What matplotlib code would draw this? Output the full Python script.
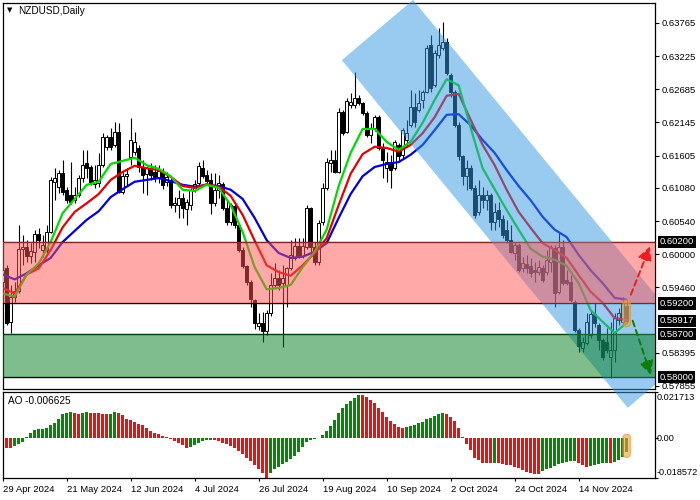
import matplotlib
matplotlib.use("Agg")
import matplotlib.pyplot as plt
import numpy as np
from matplotlib.patches import Rectangle, Polygon, FancyBboxPatch, FancyArrowPatch
from matplotlib.transforms import Bbox, TransformedBbox, blended_transform_factory

plt.rcParams['font.family'] = ['Liberation Sans', 'DejaVu Sans']

# ---------------- data ----------------
title_text = "NZDUSD,Daily"
ao_text = "AO -0.006625"

opens = [0.5955, 0.5978, 0.5890, 0.5930, 0.5940, 0.6009, 0.6012, 0.5997, 0.6004, 0.6033,
         0.6007, 0.6007, 0.6036, 0.6118, 0.6110, 0.6132, 0.6105, 0.6096, 0.6088, 0.6096,
         0.6124, 0.6148, 0.6142, 0.6114, 0.6116, 0.6145, 0.6175, 0.6191, 0.6178, 0.6199,
         0.6101, 0.6127, 0.6158, 0.6166, 0.6173, 0.6142, 0.6130, 0.6140, 0.6134, 0.6126,
         0.6134, 0.6118, 0.6121, 0.6080, 0.6080, 0.6091, 0.6074, 0.6080, 0.6105, 0.6116,
         0.6140, 0.6129, 0.6121, 0.6083, 0.6105, 0.6114, 0.6075, 0.6052, 0.6078, 0.6048,
         0.6007, 0.5981, 0.5955, 0.5926, 0.5883, 0.5888, 0.5875, 0.5904, 0.5950, 0.5961,
         0.5953, 0.5950, 0.5977, 0.5994, 0.6013, 0.5997, 0.6012, 0.6075, 0.6012, 0.5987,
         0.6052, 0.6108, 0.6148, 0.6153, 0.6134, 0.6232, 0.6199, 0.6243, 0.6243, 0.6254,
         0.6246, 0.6230, 0.6194, 0.6205, 0.6223, 0.6173, 0.6141, 0.6150, 0.6140, 0.6178,
         0.6161, 0.6186, 0.6210, 0.6240, 0.6235, 0.6251, 0.6264, 0.6341, 0.6275, 0.6324,
         0.6336, 0.6346, 0.6292, 0.6264, 0.6210, 0.6160, 0.6127, 0.6140, 0.6108, 0.6069,
         0.6096, 0.6088, 0.6096, 0.6052, 0.6072, 0.6057, 0.6040, 0.6023, 0.6002, 0.6015,
         0.5977, 0.5984, 0.5981, 0.5974, 0.5971, 0.5977, 0.5971, 0.5987, 0.6010, 0.5938,
         0.6012, 0.5958, 0.5955, 0.5922, 0.5877, 0.5848, 0.5855, 0.5868, 0.5903, 0.5885,
         0.5860, 0.5857, 0.5832, 0.5844, 0.5893, 0.5890, 0.5916]

highs = [0.5981, 0.5982, 0.5950, 0.5955, 0.6048, 0.6031, 0.6023, 0.6018, 0.6040, 0.6043,
         0.6031, 0.6048, 0.6126, 0.6140, 0.6137, 0.6153, 0.6110, 0.6150, 0.6110, 0.6129,
         0.6170, 0.6170, 0.6145, 0.6145, 0.6165, 0.6197, 0.6194, 0.6205, 0.6215, 0.6214,
         0.6134, 0.6140, 0.6222, 0.6199, 0.6178, 0.6153, 0.6143, 0.6148, 0.6145, 0.6145,
         0.6140, 0.6134, 0.6124, 0.6093, 0.6105, 0.6100, 0.6090, 0.6108, 0.6121, 0.6150,
         0.6153, 0.6137, 0.6132, 0.6132, 0.6129, 0.6118, 0.6088, 0.6083, 0.6083, 0.6051,
         0.6012, 0.5982, 0.5958, 0.5927, 0.5904, 0.5906, 0.5909, 0.5970, 0.5985, 0.5974,
         0.5982, 0.5979, 0.6023, 0.6026, 0.6026, 0.6026, 0.6080, 0.6077, 0.6020, 0.6056,
         0.6116, 0.6157, 0.6170, 0.6170, 0.6238, 0.6235, 0.6254, 0.6263, 0.6297, 0.6259,
         0.6248, 0.6233, 0.6214, 0.6227, 0.6227, 0.6181, 0.6166, 0.6161, 0.6186, 0.6181,
         0.6205, 0.6218, 0.6267, 0.6263, 0.6267, 0.6267, 0.6341, 0.6357, 0.6333, 0.6368,
         0.6378, 0.6352, 0.6295, 0.6267, 0.6215, 0.6161, 0.6153, 0.6145, 0.6113, 0.6121,
         0.6110, 0.6105, 0.6100, 0.6083, 0.6085, 0.6064, 0.6056, 0.6048, 0.6020, 0.6018,
         0.5996, 0.5999, 0.5994, 0.5987, 0.5991, 0.5982, 0.6007, 0.6015, 0.6015, 0.6034,
         0.6023, 0.5974, 0.5966, 0.5926, 0.5880, 0.5865, 0.5904, 0.5909, 0.5921, 0.5888,
         0.5863, 0.5880, 0.5890, 0.5904, 0.5912, 0.5930, 0.5926]

lows = [0.5942, 0.5885, 0.5872, 0.5922, 0.5937, 0.5982, 0.5987, 0.5985, 0.5987, 0.6010,
        0.5996, 0.5998, 0.6034, 0.6088, 0.6100, 0.6096, 0.6083, 0.6082, 0.6083, 0.6093,
        0.6118, 0.6124, 0.6113, 0.6108, 0.6110, 0.6142, 0.6170, 0.6170, 0.6175, 0.6100,
        0.6098, 0.6113, 0.6145, 0.6161, 0.6134, 0.6100, 0.6096, 0.6121, 0.6118, 0.6116,
        0.6106, 0.6111, 0.6075, 0.6069, 0.6059, 0.6059, 0.6048, 0.6072, 0.6101, 0.6113,
        0.6124, 0.6116, 0.6066, 0.6078, 0.6091, 0.6072, 0.6048, 0.6048, 0.6043, 0.6004,
        0.5977, 0.5950, 0.5914, 0.5879, 0.5877, 0.5857, 0.5868, 0.5899, 0.5945, 0.5942,
        0.5849, 0.5914, 0.5974, 0.5991, 0.5994, 0.5994, 0.6009, 0.6002, 0.5982, 0.5982,
        0.6048, 0.6105, 0.6134, 0.6132, 0.6132, 0.6194, 0.6197, 0.6238, 0.6238, 0.6243,
        0.6227, 0.6191, 0.6181, 0.6201, 0.6170, 0.6124, 0.6118, 0.6108, 0.6137, 0.6150,
        0.6157, 0.6175, 0.6207, 0.6207, 0.6232, 0.6238, 0.6262, 0.6264, 0.6272, 0.6319,
        0.6333, 0.6292, 0.6256, 0.6207, 0.6153, 0.6113, 0.6105, 0.6105, 0.6059, 0.6064,
        0.6075, 0.6072, 0.6040, 0.6040, 0.6044, 0.6026, 0.6018, 0.6002, 0.5991, 0.5971,
        0.5971, 0.5969, 0.5963, 0.5955, 0.5966, 0.5955, 0.5966, 0.5971, 0.5914, 0.5935,
        0.5950, 0.5950, 0.5922, 0.5873, 0.5841, 0.5841, 0.5852, 0.5864, 0.5881, 0.5844,
        0.5828, 0.5839, 0.5799, 0.5825, 0.5885, 0.5885, 0.5888]

closes = [0.5974, 0.5888, 0.5930, 0.5940, 0.6009, 0.6012, 0.5997, 0.6005, 0.6033, 0.6023,
          0.6015, 0.6036, 0.6121, 0.6124, 0.6132, 0.6101, 0.6088, 0.6085, 0.6096, 0.6124,
          0.6145, 0.6140, 0.6116, 0.6121, 0.6145, 0.6191, 0.6191, 0.6175, 0.6199, 0.6101,
          0.6127, 0.6130, 0.6186, 0.6183, 0.6142, 0.6129, 0.6140, 0.6129, 0.6126, 0.6135,
          0.6113, 0.6126, 0.6080, 0.6083, 0.6091, 0.6075, 0.6085, 0.6105, 0.6114, 0.6143,
          0.6127, 0.6119, 0.6083, 0.6105, 0.6116, 0.6075, 0.6052, 0.6080, 0.6048, 0.6007,
          0.5981, 0.5955, 0.5927, 0.5888, 0.5888, 0.5875, 0.5904, 0.5950, 0.5961, 0.5950,
          0.5961, 0.5977, 0.5998, 0.6013, 0.5997, 0.6013, 0.6075, 0.6012, 0.5987, 0.6051,
          0.6108, 0.6150, 0.6153, 0.6134, 0.6232, 0.6197, 0.6250, 0.6248, 0.6254, 0.6246,
          0.6230, 0.6194, 0.6205, 0.6223, 0.6173, 0.6153, 0.6150, 0.6137, 0.6183, 0.6160,
          0.6202, 0.6197, 0.6240, 0.6215, 0.6246, 0.6264, 0.6336, 0.6271, 0.6328, 0.6341,
          0.6346, 0.6295, 0.6264, 0.6210, 0.6160, 0.6127, 0.6140, 0.6108, 0.6064, 0.6096,
          0.6088, 0.6096, 0.6052, 0.6069, 0.6057, 0.6031, 0.6023, 0.6004, 0.6015, 0.5974,
          0.5985, 0.5977, 0.5969, 0.5971, 0.5979, 0.5958, 0.5991, 0.6012, 0.5937, 0.6012,
          0.5953, 0.5953, 0.5926, 0.5877, 0.5851, 0.5857, 0.5890, 0.5903, 0.5888, 0.5860,
          0.5832, 0.5844, 0.5844, 0.5896, 0.5904, 0.5921, 0.58917]

# Alligator lines, read every 3rd bar
ma_step = 3
jaw_blue = [0.5967, 0.5959, 0.5969, 0.5982, 0.5994, 0.6020, 0.6038, 0.6056, 0.6070, 0.6093,
            0.6106, 0.6118, 0.6121, 0.6124, 0.6119, 0.6113, 0.6110, 0.6113, 0.6111, 0.6105,
            0.6090, 0.6059, 0.6023, 0.6002, 0.5994, 0.5996, 0.6004, 0.6018, 0.6059, 0.6098,
            0.6127, 0.6142, 0.6147, 0.6150, 0.6162, 0.6178, 0.6202, 0.6227, 0.6228, 0.6210,
            0.6186, 0.6165, 0.6137, 0.6111, 0.6088, 0.6061, 0.6040, 0.6028, 0.5999, 0.5974,
            0.5953, 0.5929, 0.5926]
teeth_red = [0.5945, 0.5936, 0.5967, 0.5977, 0.6007, 0.6044, 0.6069, 0.6083, 0.6098, 0.6121,
             0.6134, 0.6144, 0.6140, 0.6137, 0.6126, 0.6111, 0.6108, 0.6114, 0.6110, 0.6095,
             0.6064, 0.6022, 0.5982, 0.5971, 0.5965, 0.5982, 0.6002, 0.6026, 0.6080, 0.6131,
             0.6163, 0.6175, 0.6173, 0.6167, 0.6178, 0.6197, 0.6223, 0.6258, 0.6261, 0.6219,
             0.6178, 0.6145, 0.6105, 0.6069, 0.6043, 0.6018, 0.6007, 0.5994, 0.5966, 0.5939,
             0.5921, 0.5896, 0.5893]
lips_green = [0.5936, 0.5931, 0.5967, 0.5985, 0.6020, 0.6067, 0.6090, 0.6113, 0.6118, 0.6147,
              0.6152, 0.6157, 0.6145, 0.6139, 0.6127, 0.6105, 0.6103, 0.6113, 0.6108, 0.6080,
              0.6036, 0.5979, 0.5943, 0.5945, 0.5950, 0.5979, 0.6004, 0.6040, 0.6111, 0.6165,
              0.6204, 0.6204, 0.6183, 0.6170, 0.6183, 0.6214, 0.6251, 0.6285, 0.6275, 0.6206,
              0.6140, 0.6106, 0.6072, 0.6040, 0.6009, 0.5996, 0.5991, 0.5981, 0.5953, 0.5909,
              0.5890, 0.5872, 0.5888]

ao = [-0.0041, -0.0044, -0.0045, -0.0036, -0.0025, -0.0016, 0.0008, 0.0023, 0.0039, 0.0042,
      0.0044, 0.0047, 0.0061, 0.0073, 0.0089, 0.0112, 0.0120, 0.0123, 0.0120, 0.0115,
      0.0119, 0.0122, 0.0120, 0.0119, 0.0117, 0.0114, 0.0112, 0.0115, 0.0123, 0.0120,
      0.0108, 0.0089, 0.0084, 0.0076, 0.0069, 0.0061, 0.0050, 0.0034, 0.0027, 0.0019,
      0.0011, 0.0005, -0.0005, -0.0014, -0.0023, -0.0031, -0.0044, -0.0042, -0.0033, -0.0022,
      -0.0014, -0.0009, -0.0008, -0.0009, -0.0014, -0.0020, -0.0028, -0.0036, -0.0047, -0.0059,
      -0.0075, -0.0090, -0.0106, -0.0126, -0.0145, -0.0164, -0.0185, -0.0161, -0.0145, -0.0133,
      -0.0122, -0.0109, -0.0095, -0.0083, -0.0064, -0.0041, -0.0017, -0.0006, -0.0002, 0.0002,
      0.0016, 0.0034, 0.0058, 0.0086, 0.0117, 0.0144, 0.0159, 0.0175, 0.0187, 0.0204,
      0.0202, 0.0196, 0.0180, 0.0164, 0.0144, 0.0123, 0.0101, 0.0081, 0.0066, 0.0053,
      0.0050, 0.0051, 0.0058, 0.0064, 0.0070, 0.0078, 0.0089, 0.0094, 0.0105, 0.0114,
      0.0120, 0.0115, 0.0101, 0.0081, 0.0050, 0.0008, -0.0025, -0.0055, -0.0090, -0.0103,
      -0.0114, -0.0115, -0.0117, -0.0114, -0.0117, -0.0120, -0.0123, -0.0126, -0.0133, -0.0140,
      -0.0148, -0.0156, -0.0162, -0.0167, -0.0169, -0.0154, -0.0145, -0.0137, -0.0129, -0.0122,
      -0.0114, -0.0109, -0.0106, -0.0105, -0.0117, -0.0126, -0.0134, -0.0129, -0.0125, -0.0120,
      -0.0117, -0.0114, -0.0115, -0.0112, -0.0103, -0.0086, -0.006625]

date_labels = ['29 Apr 2024', '21 May 2024', '12 Jun 2024', '4 Jul 2024', '26 Jul 2024',
               '19 Aug 2024', '10 Sep 2024', '2 Oct 2024', '24 Oct 2024', '14 Nov 2024']
date_bars = [0, 16, 32, 48, 64, 80, 96, 112, 128, 144]

price_ticks = [0.63765, 0.63225, 0.62685, 0.62145, 0.61605, 0.61080, 0.60540,
               0.60000, 0.59460, 0.58395, 0.57855]
levels = [0.60200, 0.59200, 0.58700, 0.58000]
current_price = 0.58917
ao_ticks = [0.021713, 0.0, -0.018572]
ao_tick_labels = ['0.021713', '0.00', '-0.018572']

# analyst's drawings (bar index, price)
channel_bars = [84.8, 102.6, 174.1, 156.3]
channel_prices = [0.6316, 0.6414, 0.5848, 0.5750]
up_arrow = [(156.8, 0.5930), (162.1, 0.6017)]
down_arrow = [(157.3, 0.5896), (162.3, 0.5799)]
highlight_price = (0.5882, 0.5926)
highlight_ao = (-0.0089, 0.0019)

# ---------------- figure ----------------
W, H = 700, 500
fig = plt.figure(figsize=(7, 5), dpi=100)


def rect(x0, y0, x1, y1):
    return [x0 / W, 1 - y1 / H, (x1 - x0) / W, (y1 - y0) / H]


ax_ao = fig.add_axes(rect(3, 392, 655, 478))
ax = fig.add_axes(rect(3, 3, 655, 389))
ax_ao.set_zorder(1)
ax.set_zorder(2)

n = len(closes)
bars = np.arange(n)
x_lo, x_hi = 0.075, 163.1
p_lo, p_hi = 0.57806, 0.64090

ax.set_xlim(x_lo, x_hi)
ax.set_ylim(p_lo, p_hi)

FS = 6.8

# candles
ax.vlines(bars, lows, highs, color='black', lw=0.8, zorder=2)
for i in range(n):
    o, c = opens[i], closes[i]
    up = c >= o
    ax.add_patch(Rectangle((i - 0.375, min(o, c)), 0.75, max(abs(c - o), 0.00004),
                           facecolor='white' if up else 'black', edgecolor='black',
                           lw=0.7, zorder=3))

# alligator
ma_bars = bars[::ma_step]
ax.plot(ma_bars, jaw_blue, color='#0000e0', lw=1.6, zorder=4, solid_capstyle='round')
ax.plot(ma_bars, teeth_red, color='#e80000', lw=1.6, zorder=4, solid_capstyle='round')
ax.plot(ma_bars, lips_green, color='#00dc00', lw=1.6, zorder=4, solid_capstyle='round')

# horizontal levels
for lv in levels:
    ax.axhline(lv, color='black', lw=1.0, zorder=4.5)

# channel
chan = Polygon(list(zip(channel_bars, channel_prices)), closed=True,
               facecolor=(0.2, 0.6, 0.88), alpha=0.5, edgecolor='none', zorder=5)
ax.add_patch(chan)
chan.set_clip_box(TransformedBbox(Bbox([[0, -0.06], [1, 1.01]]), ax.transAxes))

# zones
ax.axhspan(levels[1], levels[0], facecolor=(1.0, 0.333, 0.333), alpha=0.5, lw=0, zorder=6)
ax.axhspan(levels[3], levels[2], facecolor=(0.0, 0.49, 0.1), alpha=0.5, lw=0, zorder=6)

# arrows
for (pa, pb), col in [(up_arrow, '#ee1c1c'), (down_arrow, '#0b7d0b')]:
    arr = FancyArrowPatch(pa, pb, arrowstyle='-|>,head_length=0.6,head_width=0.3',
                          mutation_scale=14, color=col, lw=1.4,
                          linestyle=(0, (3, 2)), zorder=8)
    ax.add_patch(arr)

# highlight of last candle
asp_main = ((p_hi - p_lo) / 386) / ((x_hi - x_lo) / 652)
ax.add_patch(FancyBboxPatch((n - 1 - 0.95, highlight_price[0]), 1.9,
                            highlight_price[1] - highlight_price[0],
                            boxstyle='round,pad=0,rounding_size=0.9',
                            mutation_aspect=asp_main, fc=(0.96, 0.62, 0.25),
                            ec=(0.93, 0.55, 0.15), alpha=0.6, lw=0.8, zorder=7))

# axis styling (main)
ax.set_xticks([])
ax.yaxis.tick_right()
ax.set_yticks(price_ticks)
ax.set_yticklabels([f"{v:.5f}" for v in price_ticks])
ax.tick_params(axis='y', length=3, width=0.8, pad=2, labelsize=FS, colors='black')
for s in ax.spines.values():
    s.set_linewidth(0.9)
    s.set_color('black')

trans = blended_transform_factory(ax.transAxes, ax.transData)
for v in levels + [current_price]:
    ax.annotate(f"{v:.5f}", xy=(1, v), xycoords=trans, xytext=(3.3, 0),
                textcoords='offset points', ha='left', va='center', fontsize=FS,
                color='white', annotation_clip=False, zorder=10,
                bbox=dict(boxstyle='square,pad=0.18', fc='black', ec='none'))

# ---------------- AO panel ----------------
ao_colors = ['#008c00' if (i == 0 or ao[i] > ao[i - 1]) else '#f01010' for i in range(n)]
ax_ao.bar(bars, ao, width=0.75, color=ao_colors, zorder=2)
ax_ao.set_xlim(x_lo, x_hi)
ax_ao.set_ylim(ao_ticks[2], ao_ticks[0])

asp_ao = ((ao_ticks[0] - ao_ticks[2]) / 86) / ((x_hi - x_lo) / 652)
ax_ao.add_patch(FancyBboxPatch((n - 1 - 0.95, highlight_ao[0]), 1.9,
                               highlight_ao[1] - highlight_ao[0],
                               boxstyle='round,pad=0,rounding_size=0.9',
                               mutation_aspect=asp_ao, fc=(0.96, 0.62, 0.25),
                               ec=(0.93, 0.55, 0.15), alpha=0.6, lw=0.8, zorder=7))

ax_ao.yaxis.tick_right()
ax_ao.set_yticks(ao_ticks)
ax_ao.set_yticklabels([])
ax_ao.tick_params(axis='y', length=2, width=0.8)
trans_ao = blended_transform_factory(ax_ao.transAxes, ax_ao.transData)
for v, lab, dy in zip(ao_ticks, ao_tick_labels, [-4.0, 0.0, 4.3]):
    ax_ao.annotate(lab, xy=(1, v), xycoords=trans_ao, xytext=(1.3, dy),
                   textcoords='offset points', ha='left', va='center', fontsize=6.6,
                   annotation_clip=False)

ax_ao.set_xticks(date_bars)
ax_ao.set_xticklabels(date_labels, ha='left')
ax_ao.tick_params(axis='x', length=2.5, width=0.8, pad=2.5, labelsize=FS)
for s in ax_ao.spines.values():
    s.set_linewidth(0.9)
    s.set_color('black')

# texts
fig.text(7 / W, 1 - 10.5 / H, '\u25BC', fontsize=5, va='center', ha='left',
         family=['DejaVu Sans'])
fig.text(18 / W, 1 - 11 / H, title_text, fontsize=7.2, va='center', ha='left')
fig.text(8 / W, 1 - 401 / H, ao_text, fontsize=7.2, va='center', ha='left')

fig.savefig('out.png', dpi=100)
